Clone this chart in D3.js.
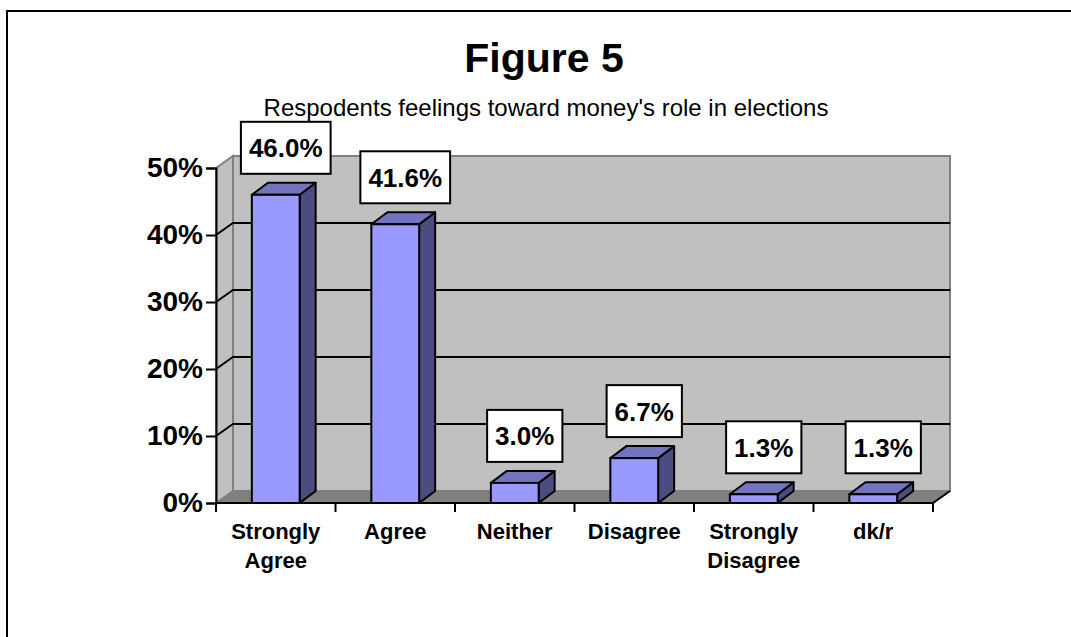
<!DOCTYPE html>
<html>
<head>
<meta charset="utf-8">
<script src="https://cdn.jsdelivr.net/npm/d3@7"></script>
<style>
  html, body { margin: 0; padding: 0; background: #fff; }
  svg { display: block; font-family: "Liberation Sans", Arial, sans-serif; }
</style>
</head>
<body>
<svg id="chart" width="1071" height="637"></svg>
<script>
// Survey responses: share of respondents per answer
const categories = ["Strongly Agree", "Agree", "Neither", "Disagree", "Strongly Disagree", "dk/r"];
const shares = [0.460, 0.416, 0.030, 0.067, 0.013, 0.013];
const yTicks = [0, 0.1, 0.2, 0.3, 0.4, 0.5];
const titleText = "Figure 5";
const subtitleText = "Respodents feelings toward money's role in elections";

(function () {
const svg = d3.select("#chart");

// Front plane of the 3-D box and its depth offset
const plotLeft = 216, plotRight = 933, plotBase = 503, plotTop = 168;
const depthX = 17, depthY = 12;     // walls
const barDX = 16, barDY = 12;       // column depth

const x = d3.scaleBand().domain(categories).range([plotLeft, plotRight]).padding(0);
const y = d3.scaleLinear().domain([0, 0.5]).range([plotBase, plotTop]);
const barW = x.bandwidth() * 0.4;

// Outer chart frame
svg.append("rect")
  .attr("x", 7).attr("y", 11).attr("width", 1074).attr("height", 700)
  .attr("fill", "none").attr("stroke", "#000").attr("stroke-width", 2);

// Titles
svg.append("text").attr("x", 544).attr("y", 72).attr("text-anchor", "middle")
  .attr("font-size", 41).attr("font-weight", "bold").text(titleText);
svg.append("text").attr("x", 546).attr("y", 116).attr("text-anchor", "middle")
  .attr("font-size", 24).text(subtitleText);

const wall = svg.append("g");
const y0 = y(0), y1 = y(0.5);

// Back wall
wall.append("rect")
  .attr("x", plotLeft + depthX).attr("y", y1 - depthY)
  .attr("width", plotRight - plotLeft).attr("height", y0 - y1)
  .attr("fill", "#c0c0c0").attr("stroke", "#808080").attr("stroke-width", 2);

// Side wall
wall.append("path")
  .attr("d", `M${plotLeft},${y1} L${plotLeft + depthX},${y1 - depthY} L${plotLeft + depthX},${y0 - depthY} L${plotLeft},${y0} Z`)
  .attr("fill", "#c0c0c0").attr("stroke", "#808080").attr("stroke-width", 2);

// Floor
wall.append("path")
  .attr("d", `M${plotLeft},${y0} L${plotLeft + depthX},${y0 - depthY} L${plotRight + depthX},${y0 - depthY} L${plotRight},${y0} Z`)
  .attr("fill", "#808080").attr("stroke", "#808080").attr("stroke-width", 1);

// Gridlines on back and side walls
const grid = yTicks.filter(t => t > 0 && t < 0.5);
wall.selectAll("path.grid").data(grid).join("path")
  .attr("class", "grid")
  .attr("d", t => `M${plotLeft},${y(t)} L${plotLeft + depthX},${y(t) - depthY} L${plotRight + depthX},${y(t) - depthY}`)
  .attr("fill", "none").attr("stroke", "#000").attr("stroke-width", 2);

// Front right floor edge
wall.append("path")
  .attr("d", `M${plotRight},${y0} L${plotRight + depthX},${y0 - depthY}`)
  .attr("stroke", "#000").attr("stroke-width", 2);

// Columns
const rows = categories.map((c, i) => ({ c, v: shares[i] }));
const bars = svg.append("g").selectAll("g").data(rows).join("g");
bars.each(function (d) {
  const g = d3.select(this);
  const cx = x(d.c) + x.bandwidth() / 2;
  const x0 = cx - barW / 2, x1 = cx + barW / 2;
  const yt = y(d.v), yb = y(0);
  // side face
  g.append("path")
    .attr("d", `M${x1},${yb} L${x1 + barDX},${yb - barDY} L${x1 + barDX},${yt - barDY} L${x1},${yt} Z`)
    .attr("fill", "#4c4c80").attr("stroke", "#000").attr("stroke-width", 2).attr("stroke-linejoin", "round");
  // top face
  g.append("path")
    .attr("d", `M${x0},${yt} L${x0 + barDX},${yt - barDY} L${x1 + barDX},${yt - barDY} L${x1},${yt} Z`)
    .attr("fill", "#7373c0").attr("stroke", "#000").attr("stroke-width", 2).attr("stroke-linejoin", "round");
  // front face
  g.append("rect")
    .attr("x", x0).attr("y", yt).attr("width", barW).attr("height", yb - yt)
    .attr("fill", "#9999ff").attr("stroke", "#000").attr("stroke-width", 2);
});

// Y axis (front plane)
const yAxis = d3.axisLeft(y).tickValues(yTicks).tickFormat(d3.format(".0%")).tickSize(10).tickPadding(3);
const ya = svg.append("g").attr("transform", `translate(${plotLeft},0)`).call(yAxis);
ya.select(".domain").attr("stroke", "#000").attr("stroke-width", 2);
ya.selectAll(".tick line").attr("stroke", "#000").attr("stroke-width", 2);
ya.selectAll(".tick text").attr("font-size", 28).attr("font-weight", "bold")
  .attr("font-family", "'Liberation Sans', Arial, sans-serif").attr("fill", "#000");

// X axis: baseline, boundary ticks, two-line category labels
const xa = svg.append("g");
xa.append("line").attr("x1", plotLeft).attr("x2", plotRight).attr("y1", y0).attr("y2", y0)
  .attr("stroke", "#000").attr("stroke-width", 2);
const bounds = categories.map(c => x(c)).concat([x(categories[categories.length - 1]) + x.bandwidth()]);
xa.selectAll("line.tk").data(bounds).join("line").attr("class", "tk")
  .attr("x1", d => d).attr("x2", d => d).attr("y1", y0).attr("y2", y0 + 9)
  .attr("stroke", "#000").attr("stroke-width", 2);
xa.selectAll("text.cat").data(categories).join("text").attr("class", "cat")
  .attr("x", d => x(d) + x.bandwidth() / 2).attr("y", 539)
  .attr("text-anchor", "middle").attr("font-size", 22).attr("font-weight", "bold")
  .each(function (d) {
    const words = d.split(" ");
    const t = d3.select(this);
    words.forEach((w, i) => {
      t.append("tspan").attr("x", x(d) + x.bandwidth() / 2).attr("dy", i === 0 ? 0 : 29).text(w);
    });
  });

// Value labels in white boxes above each column
const fmt = d3.format(".1%");
const lab = svg.append("g").selectAll("g").data(rows).join("g");
lab.each(function (d) {
  const g = d3.select(this);
  const cx = x(d.c) + x.bandwidth() / 2 + 10;
  const bottom = y(d.v) - barDY - 9;
  const h = 52;
  const rect = g.append("rect");
  const txt = g.append("text")
    .attr("x", cx).attr("y", bottom - h / 2 + 9.5)
    .attr("text-anchor", "middle").attr("font-size", 26).attr("font-weight", "bold")
    .text(fmt(d.v));
  const w = txt.node().getComputedTextLength() + 16;
  rect.attr("x", cx - w / 2).attr("y", bottom - h).attr("width", w).attr("height", h)
    .attr("fill", "#fff").attr("stroke", "#000").attr("stroke-width", 2);
});
})();
</script>
</body>
</html>
